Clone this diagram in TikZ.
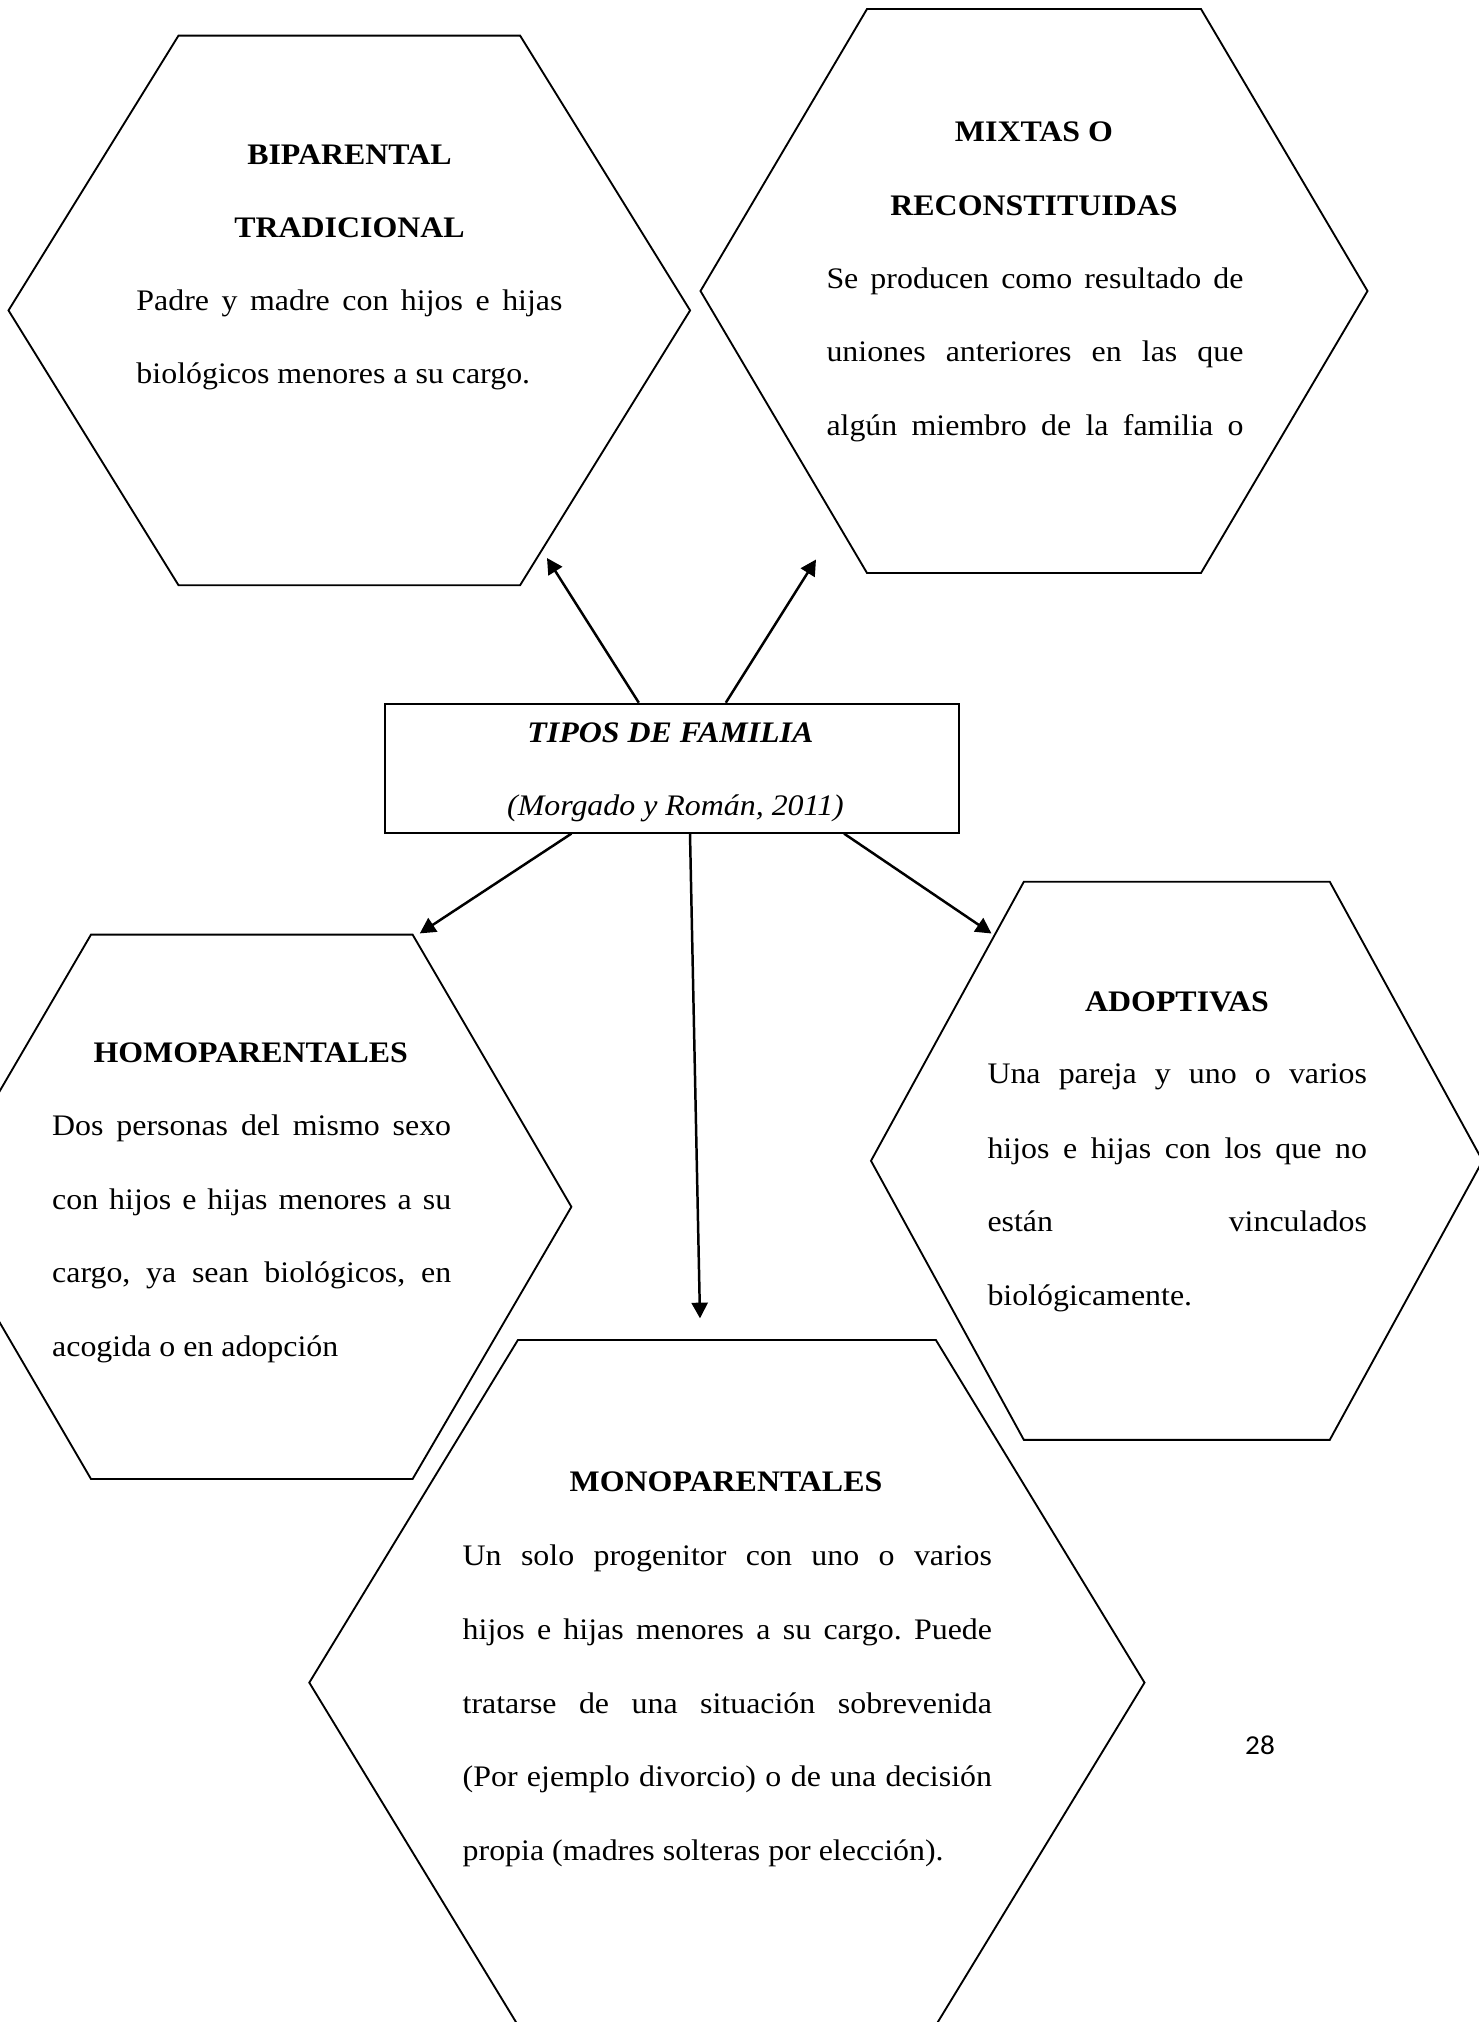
\documentclass[tikz,border=0pt]{standalone}
\usepackage{fontspec}
\setmainfont{Liberation Serif}[FakeStretch=1.07]
\newfontfamily\pagefont{Carlito}[FakeStretch=1.07]
\usetikzlibrary{arrows.meta}
\frenchspacing
\newlength\pxu
\setlength\pxu{0.40249pt}
\newcommand\jline[2]{\makebox[#1\pxu][s]{#2}}
% name, cx, cy, half top edge, half width, half height
\newcommand\drawhex[6]{%
  \coordinate (#1) at (#2,#3);
  \draw[hexline] (#2-#4,#3-#6) -- (#2+#4,#3-#6) -- (#2+#5,#3) -- (#2+#4,#3+#6)
    -- (#2-#4,#3+#6) -- (#2-#5,#3) -- cycle;}
\begin{document}
\begin{tikzpicture}[x=0.40249pt, y=-0.40249pt,
  hexline/.style={line width=0.75pt},
  conn/.style={-{Triangle[length=6.3pt,width=6.5pt]}, line width=1pt},
  ttl/.style={anchor=base, inner sep=0pt, font=\fontsize{12}{14}\selectfont\bfseries},
  bdy/.style={anchor=base west, inner sep=0pt, font=\fontsize{12}{14}\selectfont},
  ital/.style={anchor=base, inner sep=0pt, font=\fontsize{12}{14}\selectfont\itshape}]
\useasboundingbox (0,0) rectangle (1479,2022);
\fill[white] (0,0) rectangle (1479,2022);

\begin{scope}
\clip (0,0) rectangle (1479,2022);
\drawhex{hb}{349.3}{310.4}{170.8}{340.8}{274.8}
\drawhex{hm}{1034}{291}{167}{333.5}{282}
\drawhex{hh}{251.8}{1206.8}{160.8}{319.6}{272.2}
\drawhex{ha}{1176.8}{1160.8}{153}{305.8}{279}
\drawhex{hp}{726.9}{1682.6}{209}{417.6}{342.6}
\end{scope}

% central box
\node[draw, line width=0.75pt, minimum width=574.2\pxu, minimum height=129\pxu,
  inner sep=0pt, anchor=north west] (tf) at (383.7,702.7) {};
\node[ttl, font=\fontsize{12}{14}\selectfont\bfseries\itshape] (tf1) at (670.4,742.7) {TIPOS DE FAMILIA};
\node[ital] (tf2) at (675.5,815) {(Morgado y Román, 2011)};

% arrow ends
\path (tf.north west) ++(255.1,0) coordinate (s1);
\path (tf.north west) ++(342.1,0) coordinate (s2);
\path (tf.south west) ++(187.8,0) coordinate (s3);
\path (tf.south west) ++(306.3,0) coordinate (s4);
\path (tf.south west) ++(460.3,0) coordinate (s5);
\coordinate (e1) at (547,558);
\coordinate (e2) at (816,559.5);
\coordinate (e3) at (419.8,933.4);
\coordinate (e4) at (700,1318.3);
\coordinate (e5) at (991.5,933.5);
\draw[conn] (s1) -- (e1);
\draw[conn] (s2) -- (e2);
\draw[conn] (s3) -- (e3);
\draw[conn] (s4) -- (e4);
\draw[conn] (s5) -- (e5);

% BIPARENTAL
\node[ttl] (b1) at (349.5,164) {BIPARENTAL};
\node[ttl] (b2) at (349.5,237) {TRADICIONAL};
\node[bdy] (b3) at (136,310) {\jline{426}{Padre y madre con hijos e hijas}};
\node[bdy] (b4) at (136,383.6) {biológicos menores a su cargo.};

% MIXTAS
\node[ttl] (m1) at (1034,141.6) {MIXTAS O};
\node[ttl] (m2) at (1034,215.5) {RECONSTITUIDAS};
\node[bdy] (m3) at (826,288.6) {\jline{417}{Se producen como resultado de}};
\node[bdy] (m4) at (826,361.8) {\jline{417}{uniones anteriores en las que}};
\node[bdy] (m5) at (826,435) {\jline{417}{algún miembro de la familia o}};

% HOMOPARENTALES
\node[ttl] (h1) at (250.7,1062.7) {HOMOPARENTALES};
\node[bdy] (h2) at (51.7,1135) {\jline{399}{Dos personas del mismo sexo}};
\node[bdy] (h3) at (51.7,1209) {\jline{399}{con hijos e hijas menores a su}};
\node[bdy] (h4) at (51.7,1282.5) {\jline{399}{cargo, ya sean biológicos, en}};
\node[bdy] (h5) at (51.7,1356.5) {acogida o en adopción};

% ADOPTIVAS
\node[ttl] (a1) at (1177,1011) {ADOPTIVAS};
\node[bdy] (a2) at (987,1083.9) {\jline{379.5}{Una pareja y uno o varios}};
\node[bdy] (a3) at (987,1158.5) {\jline{379.5}{hijos e hijas con los que no}};
\node[bdy] (a4) at (987,1231.2) {\jline{379.5}{están vinculados}};
\node[bdy] (a5) at (987,1305.8) {biológicamente.};

% MONOPARENTALES
\node[ttl] (p1) at (726,1491.4) {MONOPARENTALES};
\node[bdy] (p2) at (462.2,1565.3) {\jline{529.3}{Un solo progenitor con uno o varios}};
\node[bdy] (p3) at (462.2,1639.2) {\jline{529.3}{hijos e hijas menores a su cargo. Puede}};
\node[bdy] (p4) at (462.2,1713) {\jline{529.3}{tratarse de una situación sobrevenida}};
\node[bdy] (p5) at (462.2,1786.9) {\jline{529.3}{(Por ejemplo divorcio) o de una decisión}};
\node[bdy] (p6) at (462.2,1860.7) {propia (madres solteras por elección).};

% page number
\node[inner sep=0pt, font=\fontsize{11}{13}\selectfont\pagefont] (pg) at (1260,1745) {28};
\end{tikzpicture}
\end{document}
